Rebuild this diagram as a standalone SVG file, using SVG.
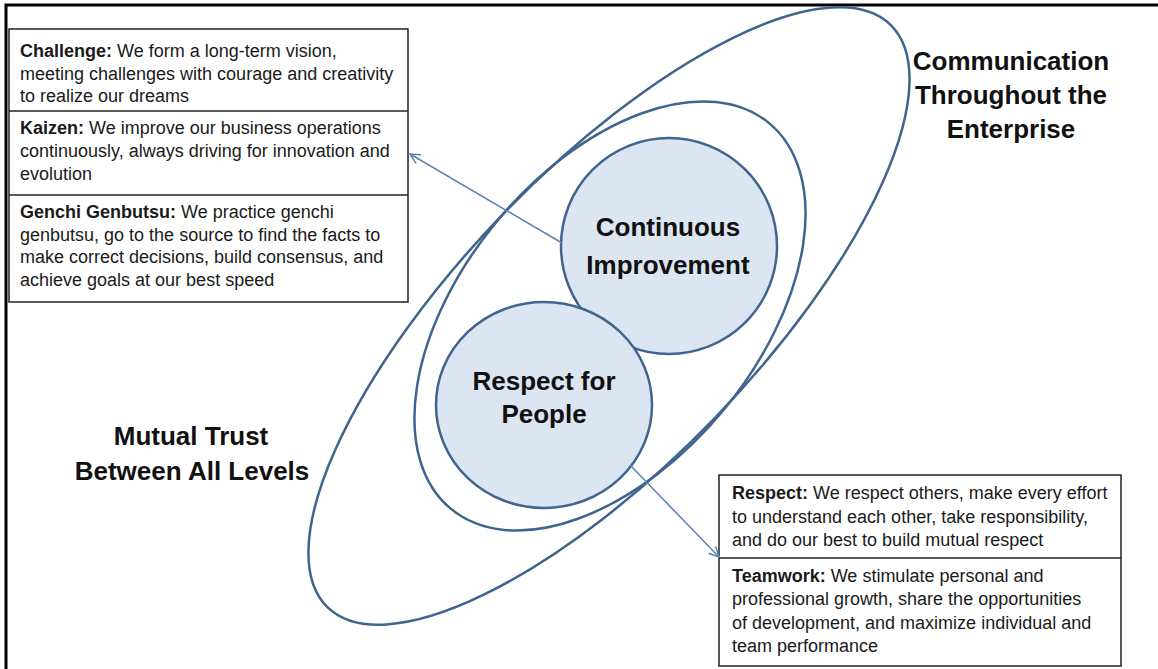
<svg xmlns="http://www.w3.org/2000/svg" width="1158" height="669" viewBox="0 0 1158 669">
<defs>
<style>
.frame{stroke:#000;stroke-width:3;fill:none}
.ring{fill:none;stroke:#41648f;stroke-width:2.5}
.core{fill:#dce6f2;stroke:#41648f;stroke-width:2.5}
.box{fill:#fff;stroke:#222;stroke-width:1.5}
.conn{stroke:#5b82b0;stroke-width:1.5;fill:none}
.big{font-family:"Liberation Sans",Arial,sans-serif;font-weight:bold;font-size:26px;fill:#111;text-anchor:middle}
.txt{font-family:"Liberation Sans",Arial,sans-serif;font-size:18px;fill:#1a1a1a}
.txt tspan.b{font-weight:bold}
</style>
<marker id="arr" viewBox="0 0 12 12" refX="11" refY="6" markerWidth="12" markerHeight="12" markerUnits="userSpaceOnUse" orient="auto">
<path d="M1,1 L11,6 L1,11" fill="none" stroke="#5b82b0" stroke-width="1.5"/>
</marker>
</defs>
<rect width="1158" height="669" fill="#fff"/>
<path class="frame" d="M6,669 V5 H1158"/>

<g id="outer-ring">
<ellipse class="ring" cx="609" cy="316" rx="405" ry="147" transform="rotate(-46 609 316)"/>
</g>
<g id="middle-ring">
<ellipse class="ring" cx="610" cy="316" rx="250" ry="147.5" transform="rotate(-50.5 610 316)"/>
</g>

<g id="continuous-improvement">
<circle class="core" cx="669" cy="246" r="108"/>
<text class="big" x="668" y="236">Continuous</text>
<text class="big" x="668" y="274">Improvement</text>
</g>
<g id="respect-for-people">
<ellipse class="core" cx="544" cy="405" rx="108" ry="103"/>
<text class="big" x="544" y="390">Respect for</text>
<text class="big" x="544" y="423">People</text>
</g>

<g id="communication-label">
<text class="big" x="1011" y="70">Communication</text>
<text class="big" x="1011" y="104">Throughout the</text>
<text class="big" x="1011" y="138">Enterprise</text>
</g>
<g id="mutual-trust-label">
<text class="big" x="191" y="445">Mutual Trust</text>
<text class="big" x="192" y="480">Between All Levels</text>
</g>

<g id="left-box">
<rect class="box" x="9" y="29" width="399" height="273"/>
<line class="box" x1="9" y1="111" x2="408" y2="111"/>
<line class="box" x1="9" y1="195" x2="408" y2="195"/>
<text class="txt" x="20" y="57"><tspan class="b">Challenge:</tspan> We form a long-term vision,</text>
<text class="txt" x="20" y="79.5">meeting challenges with courage and creativity</text>
<text class="txt" x="20" y="102">to realize our dreams</text>
<text class="txt" x="20" y="134"><tspan class="b">Kaizen:</tspan> We improve our business operations</text>
<text class="txt" x="20" y="157">continuously, always driving for innovation and</text>
<text class="txt" x="20" y="180">evolution</text>
<text class="txt" x="20" y="218"><tspan class="b">Genchi Genbutsu:</tspan> We practice genchi</text>
<text class="txt" x="20" y="240.5">genbutsu, go to the source to find the facts to</text>
<text class="txt" x="20" y="263">make correct decisions, build consensus, and</text>
<text class="txt" x="20" y="285.5">achieve goals at our best speed</text>
</g>

<g id="right-box">
<rect class="box" x="719" y="475" width="402" height="191"/>
<line class="box" x1="719" y1="558" x2="1121" y2="558"/>
<text class="txt" x="732" y="499"><tspan class="b">Respect:</tspan> We respect others, make every effort</text>
<text class="txt" x="732" y="522.5">to understand each other, take responsibility,</text>
<text class="txt" x="732" y="545.5">and do our best to build mutual respect</text>
<text class="txt" x="732" y="582"><tspan class="b">Teamwork:</tspan> We stimulate personal and</text>
<text class="txt" x="732" y="605">professional growth, share the opportunities</text>
<text class="txt" x="732" y="628.5">of development, and maximize individual and</text>
<text class="txt" x="732" y="652">team performance</text>
</g>

<g id="connectors">
<line class="conn" x1="562" y1="243" x2="410" y2="154" marker-end="url(#arr)"/>
<line class="conn" x1="630" y1="465" x2="719" y2="557" marker-end="url(#arr)"/>
</g>
</svg>
